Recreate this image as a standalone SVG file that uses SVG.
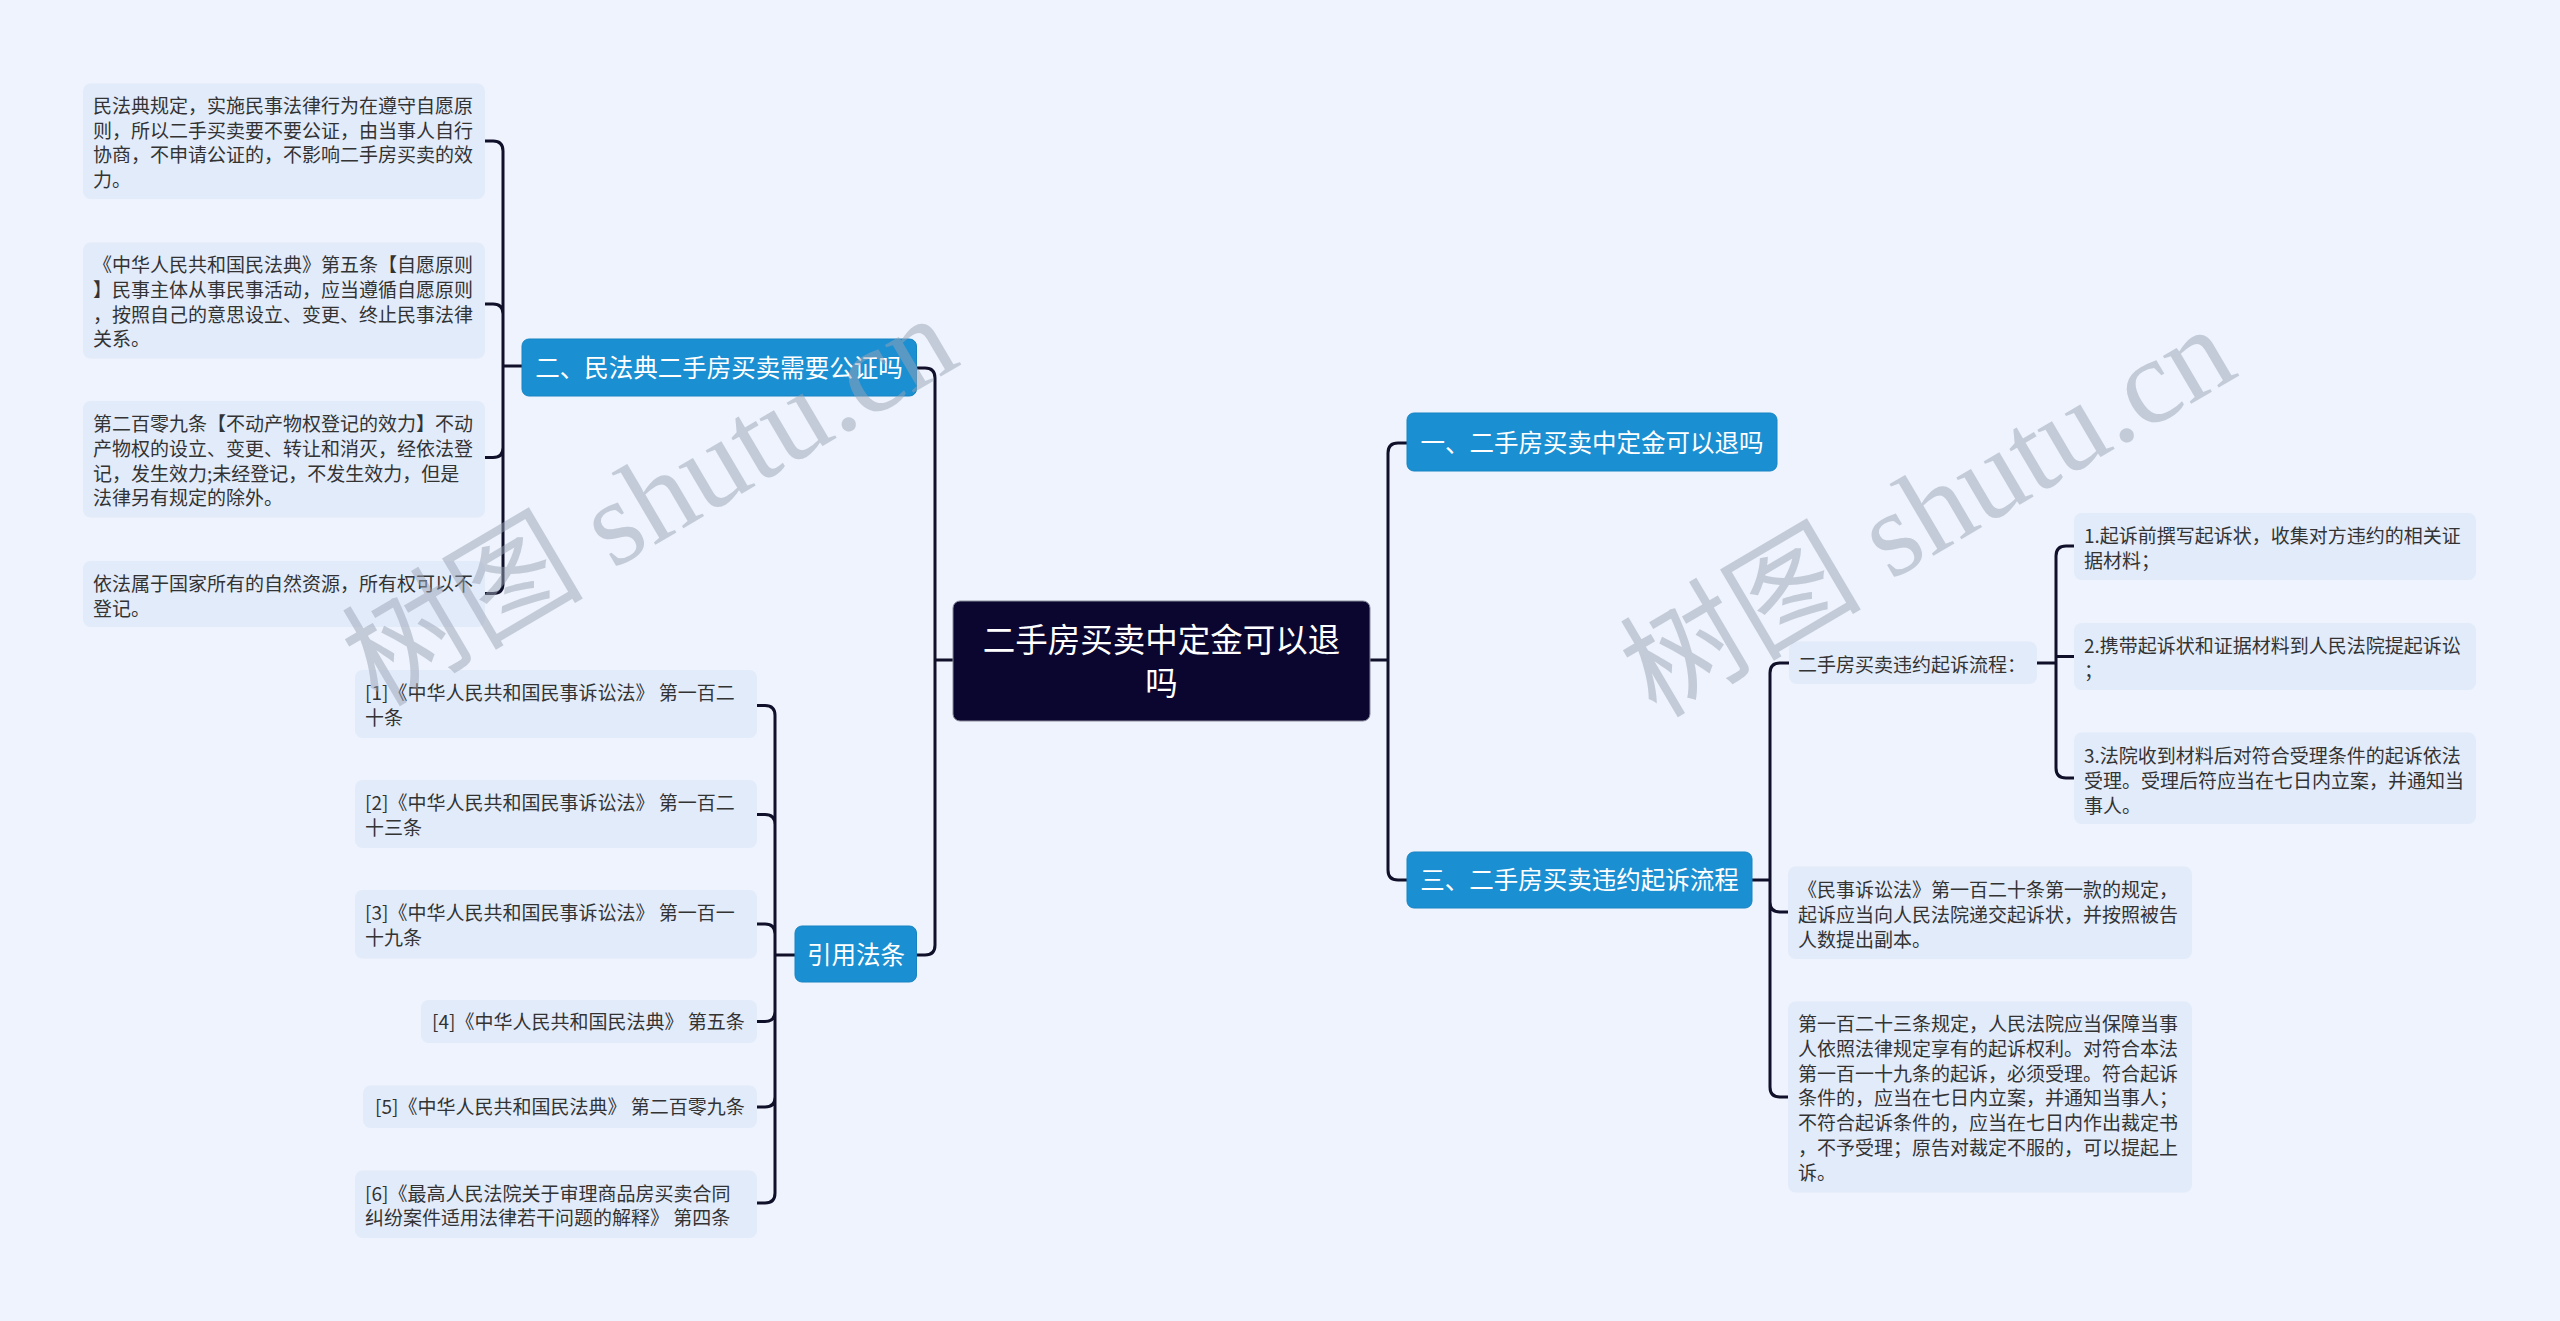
<svg xmlns="http://www.w3.org/2000/svg" width="2560" height="1321" viewBox="0 0 2560 1321">
<style>
.bg{fill:#eef3fd}
.box{fill:#e2ebfa}
.t{font-family:"Noto Sans CJK SC","Noto Sans",sans-serif;font-size:19px;fill:#333333}
.blue{fill:#1a8fd2;stroke:#1783c2;stroke-width:1}
.bt{font-family:"Noto Sans CJK SC","Noto Sans",sans-serif;font-size:24.5px;fill:#ffffff;text-anchor:middle}
.root{fill:#0b0630;stroke:#8a8a9a;stroke-width:1}
.rt{font-family:"Noto Sans CJK SC","Noto Sans",sans-serif;font-size:32.5px;fill:#ffffff;text-anchor:middle}
.c{fill:none;stroke:#10102a;stroke-width:3;stroke-linecap:round;stroke-linejoin:round}
.wm{font-family:"Liberation Serif","Noto Sans CJK SC",serif;font-size:121px;fill:#9aa3b3;fill-opacity:0.5}
</style>
<rect class="bg" x="0" y="0" width="2560" height="1321"/>
<g id="connectors">
<path class="c" d="M953,660 H935 M935,660 V378 Q935,368 925,368 H916.5 M935,660 V945 Q935,955 925,955 H916.5"/>
<path class="c" d="M1370,660 H1388 M1388,660 V453 Q1388,443 1398,443 H1407 M1388,660 V870 Q1388,880 1398,880 H1407"/>
<path class="c" d="M522,366 H503 M503,366 V151 Q503,141 493,141 H485 M503,366 V314 Q503,304 493,304 H485 M503,366 V447.5 Q503,457.5 493,457.5 H485 M503,366 V583.5 Q503,593.5 493,593.5 H485"/>
<path class="c" d="M795,955 H775 M775,955 V715.5 Q775,705.5 765,705.5 H757 M775,955 V824.6 Q775,814.6 765,814.6 H757 M775,955 V934 Q775,924 765,924 H757 M775,955 V1011.5 Q775,1021.5 765,1021.5 H757 M775,955 V1097 Q775,1107 765,1107 H757 M775,955 V1193 Q775,1203 765,1203 H757"/>
<path class="c" d="M1752,880 H1770 M1770,880 V673 Q1770,663 1780,663 H1789 M1770,880 V902 Q1770,912 1780,912 H1788 M1770,880 V1087 Q1770,1097 1780,1097 H1788"/>
<path class="c" d="M2037,663 H2056 M2056,663 V556 Q2056,546 2066,546 H2074 M2056,663 V656.5 H2074 M2056,663 V768 Q2056,778 2066,778 H2074"/>
</g>
<g id="root">
<rect class="root" x="953" y="601" width="417" height="120" rx="7"/>
<text class="rt" x="1161.5" y="652">二手房买卖中定金可以退</text>
<text class="rt" x="1161.5" y="695">吗</text>
</g>
<g id="n1">
<rect class="blue" x="1407" y="413" width="370" height="58" rx="7"/>
<text class="bt" x="1592" y="452">一、二手房买卖中定金可以退吗</text>
</g>
<g id="n3">
<rect class="blue" x="1407" y="852" width="345" height="56" rx="7"/>
<text class="bt" x="1579.5" y="889">三、二手房买卖违约起诉流程</text>
</g>
<g id="n2">
<rect class="blue" x="522" y="339" width="394.5" height="57" rx="7"/>
<text class="bt" x="719" y="377">二、民法典二手房买卖需要公证吗</text>
</g>
<g id="n4">
<rect class="blue" x="795" y="926" width="121.5" height="56" rx="7"/>
<text class="bt" x="856" y="964">引用法条</text>
</g>
<g id="l1">
<rect class="box" x="83" y="83.5" width="402" height="115.5" rx="8"/>
<text class="t"><tspan x="93" y="112.7">民法典规定，实施民事法律行为在遵守自愿原</tspan><tspan x="93" y="137.5">则，所以二手买卖要不要公证，由当事人自行</tspan><tspan x="93" y="162.3">协商，不申请公证的，不影响二手房买卖的效</tspan><tspan x="93" y="187.1">力。</tspan></text>
</g>
<g id="l2">
<rect class="box" x="83" y="242.5" width="402" height="116" rx="8"/>
<text class="t"><tspan x="93" y="272">《中华人民共和国民法典》第五条【自愿原则</tspan><tspan x="93" y="296.8">】民事主体从事民事活动，应当遵循自愿原则</tspan><tspan x="93" y="321.6">，按照自己的意思设立、变更、终止民事法律</tspan><tspan x="93" y="346.4">关系。</tspan></text>
</g>
<g id="l3">
<rect class="box" x="83" y="401" width="402" height="116.5" rx="8"/>
<text class="t"><tspan x="93" y="431">第二百零九条【不动产物权登记的效力】不动</tspan><tspan x="93" y="455.8">产物权的设立、变更、转让和消灭，经依法登</tspan><tspan x="93" y="480.6">记，发生效力;未经登记，不发生效力，但是</tspan><tspan x="93" y="505.4">法律另有规定的除外。</tspan></text>
</g>
<g id="l4">
<rect class="box" x="83" y="561" width="402" height="66" rx="8"/>
<text class="t"><tspan x="93" y="591">依法属于国家所有的自然资源，所有权可以不</tspan><tspan x="93" y="615.8">登记。</tspan></text>
</g>
<g id="r1">
<rect class="box" x="355" y="670" width="402" height="68" rx="8"/>
<text class="t"><tspan x="365" y="700">[1]《中华人民共和国民事诉讼法》 第一百二</tspan><tspan x="365" y="724.8">十条</tspan></text>
</g>
<g id="r2">
<rect class="box" x="355" y="780" width="402" height="68" rx="8"/>
<text class="t"><tspan x="365" y="810">[2]《中华人民共和国民事诉讼法》 第一百二</tspan><tspan x="365" y="834.8">十三条</tspan></text>
</g>
<g id="r3">
<rect class="box" x="355" y="890" width="402" height="68.5" rx="8"/>
<text class="t"><tspan x="365" y="920">[3]《中华人民共和国民事诉讼法》 第一百一</tspan><tspan x="365" y="944.8">十九条</tspan></text>
</g>
<g id="r4">
<rect class="box" x="421" y="1000" width="336" height="43" rx="8"/>
<text class="t" x="432" y="1029">[4]《中华人民共和国民法典》 第五条</text>
</g>
<g id="r5">
<rect class="box" x="363" y="1085.5" width="394" height="42.5" rx="8"/>
<text class="t" x="375" y="1114">[5]《中华人民共和国民法典》 第二百零九条</text>
</g>
<g id="r6">
<rect class="box" x="355" y="1170.5" width="402" height="67.5" rx="8"/>
<text class="t"><tspan x="365" y="1200.5">[6]《最高人民法院关于审理商品房买卖合同</tspan><tspan x="365" y="1225.3">纠纷案件适用法律若干问题的解释》 第四条</tspan></text>
</g>
<g id="s1">
<rect class="box" x="1789" y="641.5" width="248" height="42.5" rx="8"/>
<text class="t" x="1798" y="672">二手房买卖违约起诉流程：</text>
</g>
<g id="s1a">
<rect class="box" x="2074" y="513" width="402" height="67" rx="8"/>
<text class="t"><tspan x="2084" y="543">1.起诉前撰写起诉状，收集对方违约的相关证</tspan><tspan x="2084" y="567.8">据材料；</tspan></text>
</g>
<g id="s1b">
<rect class="box" x="2074" y="623" width="402" height="67" rx="8"/>
<text class="t"><tspan x="2084" y="653">2.携带起诉状和证据材料到人民法院提起诉讼</tspan><tspan x="2084" y="677.8">；</tspan></text>
</g>
<g id="s1c">
<rect class="box" x="2074" y="732.5" width="402" height="91.5" rx="8"/>
<text class="t"><tspan x="2084" y="763">3.法院收到材料后对符合受理条件的起诉依法</tspan><tspan x="2084" y="787.8">受理。受理后符应当在七日内立案，并通知当</tspan><tspan x="2084" y="812.6">事人。</tspan></text>
</g>
<g id="s2">
<rect class="box" x="1788" y="866.5" width="404" height="92.5" rx="8"/>
<text class="t"><tspan x="1798" y="897">《民事诉讼法》第一百二十条第一款的规定，</tspan><tspan x="1798" y="921.8">起诉应当向人民法院递交起诉状，并按照被告</tspan><tspan x="1798" y="946.6">人数提出副本。</tspan></text>
</g>
<g id="s3">
<rect class="box" x="1788" y="1001.5" width="404" height="191" rx="8"/>
<text class="t"><tspan x="1798" y="1031">第一百二十三条规定，人民法院应当保障当事</tspan><tspan x="1798" y="1055.8">人依照法律规定享有的起诉权利。对符合本法</tspan><tspan x="1798" y="1080.6">第一百一十九条的起诉，必须受理。符合起诉</tspan><tspan x="1798" y="1105.4">条件的，应当在七日内立案，并通知当事人；</tspan><tspan x="1798" y="1130.2">不符合起诉条件的，应当在七日内作出裁定书</tspan><tspan x="1798" y="1155">，不予受理；原告对裁定不服的，可以提起上</tspan><tspan x="1798" y="1179.8">诉。</tspan></text>
</g>
<g id="watermark">
<text class="wm" transform="translate(378,708) rotate(-30.5)">树图 shutu.cn</text>
<text class="wm" transform="translate(1656,719) rotate(-30.5)">树图 shutu.cn</text>
</g>
</svg>
